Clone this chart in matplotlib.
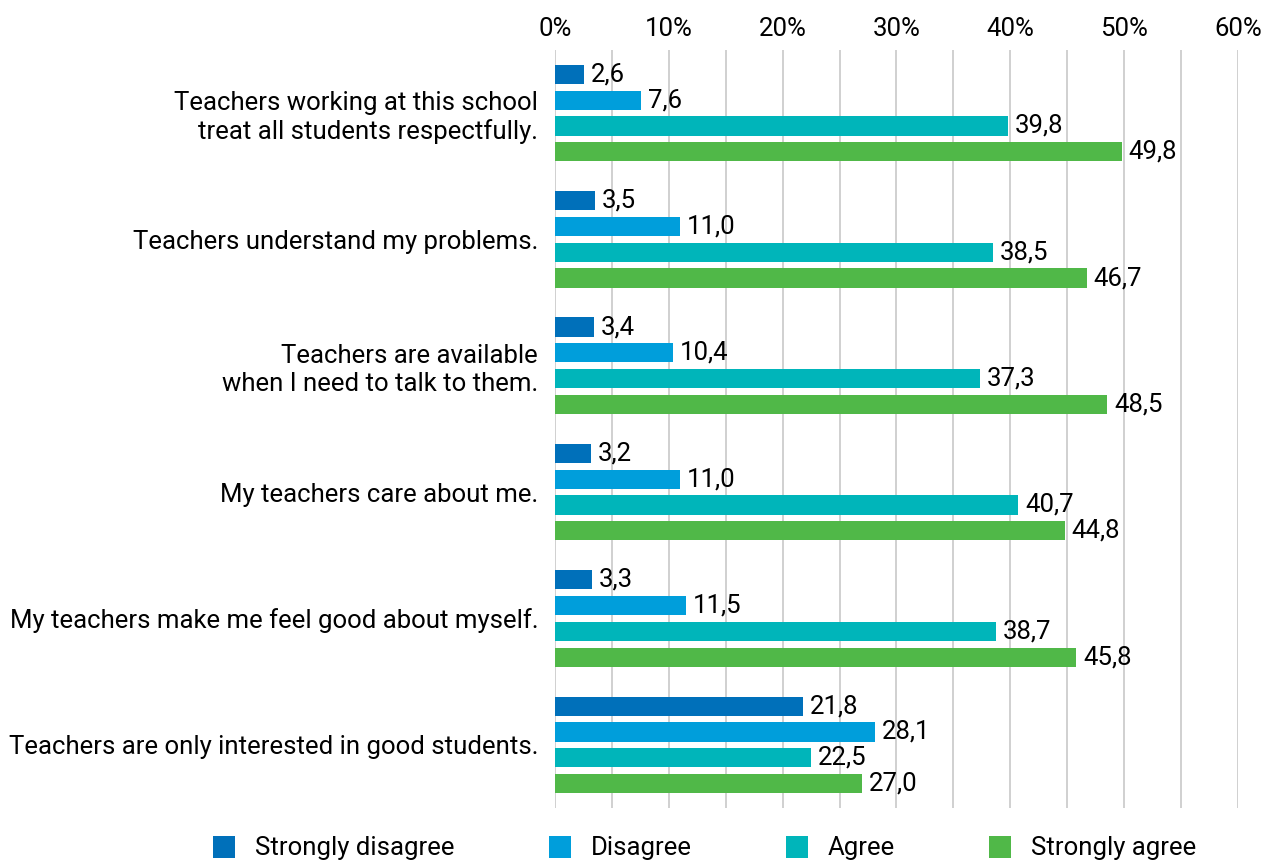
import matplotlib.pyplot as plt
import numpy as np
from matplotlib.ticker import MultipleLocator

plt.rcParams['font.family'] = ['Roboto', 'DejaVu Sans']

statements = [
    "Teachers working at this school\ntreat all students respectfully.",
    "Teachers understand my problems.",
    "Teachers are available\nwhen I need to talk to them.",
    "My teachers care about me.",
    "My teachers make me feel good about myself.",
    "Teachers are only interested in good students.",
]
strongly_disagree = [2.6, 3.5, 3.4, 3.2, 3.3, 21.8]
disagree = [7.6, 11.0, 10.4, 11.0, 11.5, 28.1]
agree = [39.8, 38.5, 37.3, 40.7, 38.7, 22.5]
strongly_agree = [49.8, 46.7, 48.5, 44.8, 45.8, 27.0]

series = [
    ("Strongly disagree", strongly_disagree, "#0070BA"),
    ("Disagree", disagree, "#009EDB"),
    ("Agree", agree, "#00B5BA"),
    ("Strongly agree", strongly_agree, "#50B848"),
]

fs = 18.5

fig = plt.figure(figsize=(12.61, 8.6), dpi=100)
ax = fig.add_axes([0.440, 0.0605, 0.5418, 0.8815])

n = len(statements)
centers = np.arange(n)
step = 0.204
height = 0.152

for k, (name, vals, color) in enumerate(series):
    y = centers + (k - 1.5) * step
    ax.barh(y, vals, height=height, color=color, label=name, zorder=3)
    for yi, v in zip(y, vals):
        ax.text(v + 0.6, yi, f"{v:.1f}".replace(".", ","), va="center",
                ha="left", fontsize=fs, color="black", zorder=4)

ax.set_xlim(0, 60)
ax.set_ylim(n - 0.5, -0.5)
ax.xaxis.set_minor_locator(MultipleLocator(5))
ax.set_xticks(np.arange(0, 61, 10))
ax.set_xticklabels([f"{t}%" for t in range(0, 61, 10)])
ax.xaxis.tick_top()
ax.tick_params(axis="x", which="both", length=0, labelsize=fs, pad=6.5)
ax.grid(axis="x", which="both", color="#C8C8C8", linewidth=1.2, zorder=0)

ax.set_yticks(centers)
ax.set_yticklabels(statements, fontsize=fs, ha="right", multialignment="right")
ax.tick_params(axis="y", length=0, pad=12)

for s in ax.spines.values():
    s.set_visible(False)

fig.legend(loc="center", bbox_to_anchor=(0.559, 0.014), ncol=4, frameon=False,
           fontsize=fs, handlelength=0.86, handleheight=0.95, columnspacing=3.66,
           handletextpad=0.78)

fig.savefig("out.png", dpi=100)
